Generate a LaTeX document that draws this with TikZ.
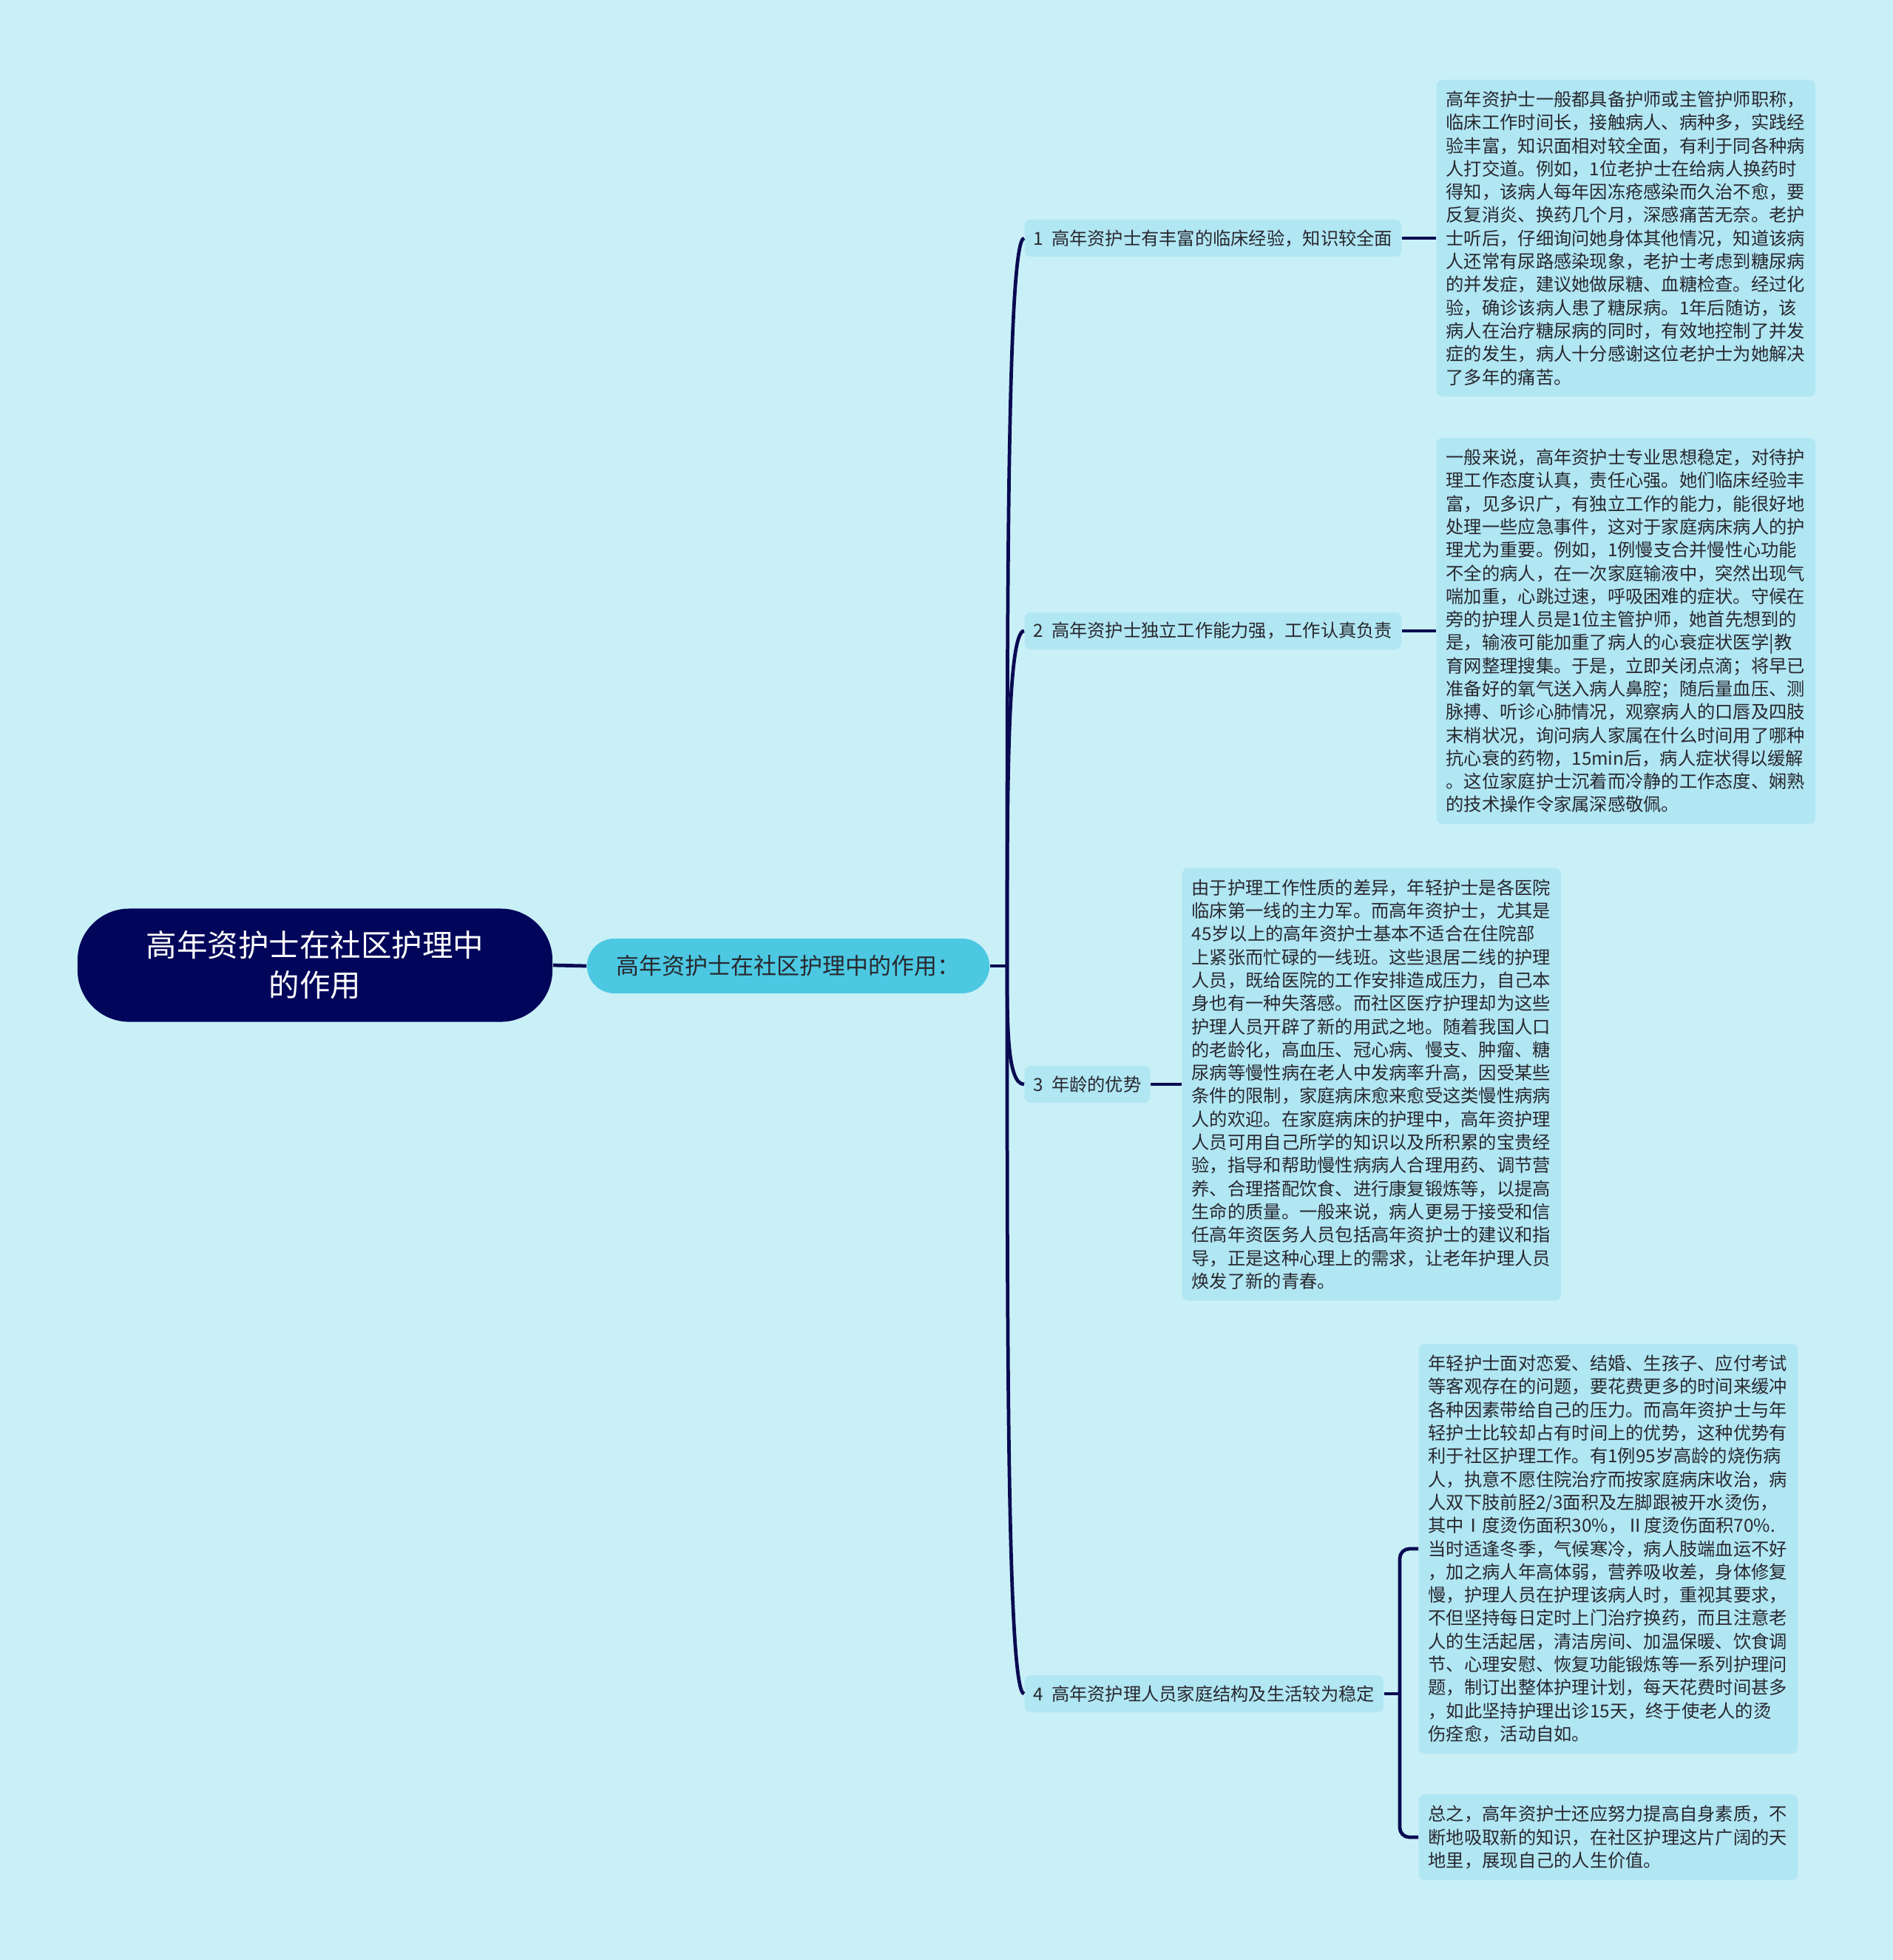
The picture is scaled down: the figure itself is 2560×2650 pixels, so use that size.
\documentclass[tikz,border=0pt]{standalone}
\usepackage{fontspec}
\setmainfont{Noto Sans CJK SC}
\usetikzlibrary{calc}
\definecolor{bgc}{RGB}{201,240,247}
\definecolor{leafc}{RGB}{177,230,243}
\definecolor{mainc}{RGB}{76,200,226}
\definecolor{rootc}{RGB}{2,6,90}
\definecolor{linec}{RGB}{10,10,82}
\definecolor{txtc}{RGB}{40,40,46}
\begin{document}
\begin{tikzpicture}[x=0.01cm,y=-0.01cm,
  rootbox/.style={fill=rootc, text=white, font=\fontsize{11.8pt}{15.4pt}\selectfont, align=center,
    minimum width=6.42cm, minimum height=1.53cm, rounded corners=0.7cm, inner sep=0pt},
  mainbox/.style={fill=mainc, text=txtc, font=\fontsize{8.8pt}{10pt}\selectfont,
    minimum width=5.44cm, minimum height=0.74cm, rounded corners=0.37cm, inner sep=0pt},
  subbox/.style={fill=leafc, text=txtc, font=\fontsize{6.9pt}{8pt}\selectfont, anchor=west,
    inner xsep=0.12cm, inner ysep=0pt, minimum height=0.5cm, rounded corners=0.08cm},
  leafbox/.style={fill=leafc, text=txtc, font=\fontsize{6.9pt}{8.9pt}\selectfont, anchor=west,
    text width=4.86cm, align=left, inner xsep=0.13cm, inner ysep=0.15cm, rounded corners=0.08cm},
  conn/.style={draw=linec, line width=1.35pt}
]
\fill[bgc] (0,0) rectangle (2560,2650);
\useasboundingbox (0,0) rectangle (2560,2650);

\node[rootbox] (root) at (426,1305) {高年资护士在社区护理中\\的作用};
\node[mainbox] (main) at (1066,1306) {高年资护士在社区护理中的作用：};
\coordinate (trunk) at (1362,1306);

\node[subbox] (s1) at (1385,322) {1\hspace{0.45em}高年资护士有丰富的临床经验，知识较全面};
\node[subbox] (s2) at (1385,853) {2\hspace{0.45em}高年资护士独立工作能力强，工作认真负责};
\node[subbox] (s3) at (1385,1466) {3\hspace{0.45em}年龄的优势};
\node[subbox] (s4) at (1385,2290) {4\hspace{0.45em}高年资护理人员家庭结构及生活较为稳定};

\node[leafbox] (l1) at (1942,322) {高年资护士一般都具备护师或主管护师职称，\\
临床工作时间长，接触病人、病种多，实践经\\
验丰富，知识面相对较全面，有利于同各种病\\
人打交道。例如，1位老护士在给病人换药时\\
得知，该病人每年因冻疮感染而久治不愈，要\\
反复消炎、换药几个月，深感痛苦无奈。老护\\
士听后，仔细询问她身体其他情况，知道该病\\
人还常有尿路感染现象，老护士考虑到糖尿病\\
的并发症，建议她做尿糖、血糖检查。经过化\\
验，确诊该病人患了糖尿病。1年后随访，该\\
病人在治疗糖尿病的同时，有效地控制了并发\\
症的发生，病人十分感谢这位老护士为她解决\\
了多年的痛苦。};

\node[leafbox] (l2) at (1942,853) {一般来说，高年资护士专业思想稳定，对待护\\
理工作态度认真，责任心强。她们临床经验丰\\
富，见多识广，有独立工作的能力，能很好地\\
处理一些应急事件，这对于家庭病床病人的护\\
理尤为重要。例如，1例慢支合并慢性心功能\\
不全的病人，在一次家庭输液中，突然出现气\\
喘加重，心跳过速，呼吸困难的症状。守候在\\
旁的护理人员是1位主管护师，她首先想到的\\
是，输液可能加重了病人的心衰症状医学|教\\
育网整理搜集。于是，立即关闭点滴；将早已\\
准备好的氧气送入病人鼻腔；随后量血压、测\\
脉搏、听诊心肺情况，观察病人的口唇及四肢\\
末梢状况，询问病人家属在什么时间用了哪种\\
抗心衰的药物，15min后，病人症状得以缓解\\
。这位家庭护士沉着而冷静的工作态度、娴熟\\
的技术操作令家属深感敬佩。};

\node[leafbox] (l3) at (1598,1466) {由于护理工作性质的差异，年轻护士是各医院\\
临床第一线的主力军。而高年资护士，尤其是\\
45岁以上的高年资护士基本不适合在住院部\\
上紧张而忙碌的一线班。这些退居二线的护理\\
人员，既给医院的工作安排造成压力，自己本\\
身也有一种失落感。而社区医疗护理却为这些\\
护理人员开辟了新的用武之地。随着我国人口\\
的老龄化，高血压、冠心病、慢支、肿瘤、糖\\
尿病等慢性病在老人中发病率升高，因受某些\\
条件的限制，家庭病床愈来愈受这类慢性病病\\
人的欢迎。在家庭病床的护理中，高年资护理\\
人员可用自己所学的知识以及所积累的宝贵经\\
验，指导和帮助慢性病病人合理用药、调节营\\
养、合理搭配饮食、进行康复锻炼等，以提高\\
生命的质量。一般来说，病人更易于接受和信\\
任高年资医务人员包括高年资护士的建议和指\\
导，正是这种心理上的需求，让老年护理人员\\
焕发了新的青春。};

\node[leafbox] (l4) at (1918,2094) {年轻护士面对恋爱、结婚、生孩子、应付考试\\
等客观存在的问题，要花费更多的时间来缓冲\\
各种因素带给自己的压力。而高年资护士与年\\
轻护士比较却占有时间上的优势，这种优势有\\
利于社区护理工作。有1例95岁高龄的烧伤病\\
人，执意不愿住院治疗而按家庭病床收治，病\\
人双下肢前胫2/3面积及左脚跟被开水烫伤，\\
其中Ⅰ度烫伤面积30\%，Ⅱ度烫伤面积70\%.\\
当时适逢冬季，气候寒冷，病人肢端血运不好\\
，加之病人年高体弱，营养吸收差，身体修复\\
慢，护理人员在护理该病人时，重视其要求，\\
不但坚持每日定时上门治疗换药，而且注意老\\
人的生活起居，清洁房间、加温保暖、饮食调\\
节、心理安慰、恢复功能锻炼等一系列护理问\\
题，制订出整体护理计划，每天花费时间甚多\\
，如此坚持护理出诊15天，终于使老人的烫\\
伤痊愈，活动自如。};

\node[leafbox] (l5) at (1918,2484) {总之，高年资护士还应努力提高自身素质，不\\
断地吸取新的知识，在社区护理这片广阔的天\\
地里，展现自己的人生价值。};

\coordinate (br) at (1893,2290);

% connectors
\draw[conn] (root.east) -- (main.west);
\draw[conn] (main.east) -- (trunk);
\foreach \s in {s1,s2,s3,s4}{
  \draw[conn] (trunk) .. controls ($(trunk)!0.5!(trunk |- \s.west)$) and (trunk |- \s.west) .. (\s.west);
}
\draw[conn] (s1.east) -- (s1.east -| l1.west);
\draw[conn] (s2.east) -- (s2.east -| l2.west);
\draw[conn] (s3.east) -- (s3.east -| l3.west);
\draw[conn] (s4.east) -- (br);
\draw[conn, rounded corners=0.13cm] (l4.west) -| (br) |- (l5.west);
\end{tikzpicture}
\end{document}
